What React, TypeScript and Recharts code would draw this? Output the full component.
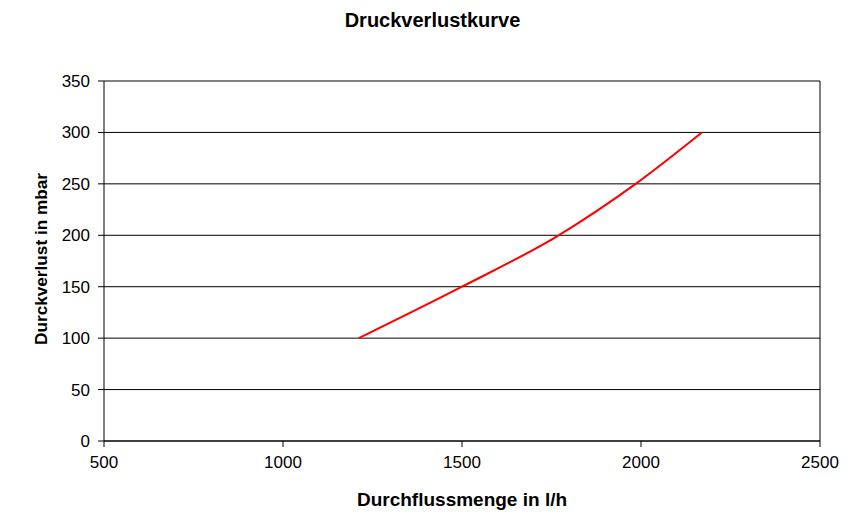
import React from "react";
import { LineChart, Line, XAxis, YAxis, CartesianGrid, ReferenceLine } from "recharts";

const flow = [1212, 1500, 1770, 1985, 2170];
const pressure = [100, 150, 200, 250, 300];
const xTicks = [500, 1000, 1500, 2000, 2500];
const yTicks = [0, 50, 100, 150, 200, 250, 300, 350];

const data = flow.map((f, i) => ({ flow: f, pressure: pressure[i] }));

const FONT = "'Liberation Sans', Arial, sans-serif";

const YLabel = (props: any) => {
  const vb = props.viewBox || {};
  const cx = 33;
  const cy = (vb.y ?? 73) + (vb.height ?? 360) / 2 - 2;
  return (
    <text
      x={cx}
      y={cy}
      transform={`rotate(-90, ${cx}, ${cy})`}
      textAnchor="middle"
      dominantBaseline="central"
      fill="#000"
      fontSize={17.2}
      fontWeight="bold"
      fontFamily={FONT}
    >
      Durckverlust in mbar
    </text>
  );
};

export default function App() {
  return (
    <div style={{ position: "relative", width: 859, height: 518, fontFamily: FONT }}>
      <div
        style={{
          position: "absolute",
          top: 1,
          left: 0,
          width: 849,
          textAlign: "center",
          fontWeight: "bold",
          fontSize: 20,
          color: "#000",
        }}
      >
        Druckverlustkurve
      </div>
      <LineChart
        width={859}
        height={518}
        data={data}
        margin={{ top: 73, right: 47, bottom: 0, left: 0 }}
      >
        <CartesianGrid horizontal vertical={false} stroke="#000" strokeWidth={1} />
        <XAxis
          dataKey="flow"
          type="number"
          domain={[500, 2500]}
          ticks={xTicks}
          allowDataOverflow
          height={85}
          tickSize={6}
          tickMargin={9}
          axisLine={{ stroke: "#000" }}
          tickLine={{ stroke: "#000" }}
          tick={{ fill: "#000", fontSize: 17, fontFamily: FONT }}
          label={{
            value: "Durchflussmenge in l/h",
            position: "insideBottom",
            offset: 20,
            fill: "#000",
            fontSize: 19,
            fontWeight: "bold",
            fontFamily: FONT,
          }}
        />
        <YAxis
          type="number"
          domain={[0, 350]}
          ticks={yTicks}
          width={96}
          tickSize={6}
          tickMargin={8}
          axisLine={{ stroke: "#000" }}
          tickLine={{ stroke: "#000" }}
          tick={{ fill: "#000", fontSize: 17, fontFamily: FONT }}
          label={<YLabel />}
        />
        <ReferenceLine x={2500} stroke="#000" strokeWidth={1} />
        <Line
          type="monotone"
          dataKey="pressure"
          stroke="#ff0000"
          strokeWidth={2}
          dot={false}
          isAnimationActive={false}
        />
      </LineChart>
    </div>
  );
}
